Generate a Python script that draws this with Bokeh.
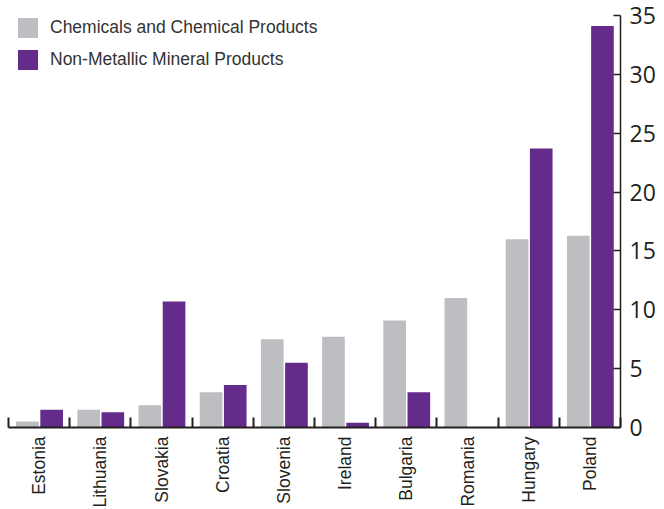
import math
from bokeh.plotting import figure
from bokeh.models import ColumnDataSource, Range1d, FixedTicker, Legend, LegendItem
from bokeh.transform import dodge
from bokeh.embed import file_html
from bokeh.resources import INLINE

countries = ["Estonia", "Lithuania", "Slovakia", "Croatia", "Slovenia",
             "Ireland", "Bulgaria", "Romania", "Hungary", "Poland"]
chemicals = [0.5, 1.5, 1.9, 3.0, 7.5, 7.7, 9.1, 11.0, 16.0, 16.3]
minerals = [1.5, 1.3, 10.7, 3.6, 5.5, 0.4, 3.0, 0.0, 23.7, 34.1]
y_ticks = [0, 5, 10, 15, 20, 25, 30, 35]
series_names = ["Chemicals and Chemical Products", "Non-Metallic Mineral Products"]

GREY = "#bdbec2"
PURPLE = "#652b8a"
DARK = "#231f20"

n = len(countries)
idx = list(range(n))
src = ColumnDataSource(dict(idx=idx, chem=chemicals, mine=minerals))

p = figure(frame_width=612, frame_height=412, output_backend="svg",
           toolbar_location=None, y_axis_location="right",
           x_range=Range1d(0, n), y_range=Range1d(0, 35),
           min_border_left=8, min_border_top=15, min_border_bottom=0, min_border_right=2)

r1 = p.vbar(x=dodge("idx", 0.31), top="chem", width=0.37, source=src,
            fill_color=GREY, line_color=None)
r2 = p.vbar(x=dodge("idx", 0.705), top="mine", width=0.37, source=src,
            fill_color=PURPLE, line_color=None)

p.grid.visible = False
p.outline_line_color = None
p.background_fill_color = "white"
p.border_fill_color = "white"

# x axis: labels at category centres, separator ticks at boundaries
xa = p.xaxis[0]
centers = [i + 0.5 for i in idx]
xa.ticker = FixedTicker(ticks=centers, minor_ticks=[float(i) for i in range(n + 1)])
xa.major_label_overrides = {c: name for c, name in zip(centers, countries)}
xa.major_label_orientation = math.pi / 2
xa.major_tick_in = 0
xa.major_tick_out = 0
xa.minor_tick_in = 10
xa.minor_tick_out = 0
xa.minor_tick_line_color = DARK
xa.minor_tick_line_width = 2
xa.axis_line_color = DARK
xa.axis_line_width = 2
xa.major_label_standoff = 9
xa.major_label_text_font = "Liberation Sans"
xa.major_label_text_font_size = "17.5px"
xa.major_label_text_color = DARK

ya = p.yaxis[0]
ya.ticker = FixedTicker(ticks=y_ticks)
ya.major_tick_in = 7
ya.major_tick_out = 0
ya.minor_tick_in = 0
ya.minor_tick_out = 0
ya.major_tick_line_color = DARK
ya.major_tick_line_width = 1.5
ya.axis_line_color = DARK
ya.axis_line_width = 1.5
ya.major_label_standoff = 9
ya.major_label_text_font = "Open Sans"
ya.major_label_text_font_size = "23px"
ya.major_label_text_color = DARK

legend = Legend(items=[LegendItem(label=series_names[0], renderers=[r1]),
                       LegendItem(label=series_names[1], renderers=[r2])],
                location=(7, 355), margin=0, padding=0, spacing=7,
                glyph_width=25, glyph_height=25, label_standoff=10,
                label_text_font="Liberation Sans", label_text_font_size="17.5px",
                label_text_color="#333333", border_line_color=None,
                background_fill_alpha=0)
p.add_layout(legend, "center")

open("out.html", "w").write(file_html(p, INLINE))
